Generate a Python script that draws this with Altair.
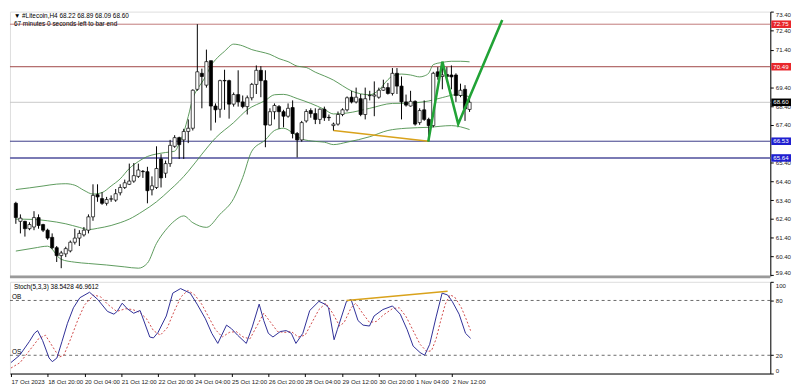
import altair as alt
import pandas as pd

# ---------------- data ----------------
bar_idx = list(range(101))
opens = [63.23, 62.27, 62.27, 61.88, 61.97, 62.47, 62.10, 61.80, 61.42, 60.87,
         60.45, 60.54, 60.70, 61.16, 61.38, 61.55, 61.80, 62.51, 63.69, 63.48,
         63.23, 63.45, 63.40, 63.79, 64.07, 64.24, 64.41, 64.66, 64.93, 64.91,
         63.95, 64.07, 65.59, 64.83, 65.34, 66.26, 66.72, 66.60, 67.05, 67.22,
         69.29, 70.14, 69.51, 70.81, 68.40, 68.23, 69.76, 69.75, 68.50, 69.01,
         68.62, 68.37, 68.84, 69.55, 70.30, 69.75, 67.39, 68.10, 68.37, 68.10,
         67.86, 68.32, 66.94, 66.60, 67.61, 68.16, 68.00, 67.69, 68.23, 67.80,
         67.36, 67.44, 67.95, 68.20, 68.87, 68.62, 68.79, 67.95, 68.95, 68.93,
         68.87, 69.24, 69.38, 69.07, 70.14, 69.46, 68.62, 68.40, 68.65, 67.52,
         68.20, 67.69, 67.36, 70.22, 69.97, 70.08, 70.05, 70.05, 68.96, 69.29,
         68.22]
highs = [63.31, 62.64, 62.30, 62.22, 62.81, 62.64, 62.14, 61.88, 61.63, 60.96,
         60.70, 60.92, 61.25, 61.88, 61.80, 61.97, 62.64, 64.24, 64.24, 63.82,
         63.57, 63.65, 63.99, 64.24, 64.49, 65.34, 65.37, 65.34, 65.00, 65.17,
         64.66, 66.26, 65.84, 65.50, 66.60, 66.85, 66.77, 67.19, 67.69, 69.29,
         72.75, 70.39, 71.40, 70.81, 68.54, 69.80, 70.33, 69.80, 69.12, 70.30,
         68.96, 68.96, 69.63, 70.56, 70.52, 70.30, 68.28, 68.54, 68.45, 68.20,
         68.54, 68.70, 67.02, 67.61, 68.23, 68.28, 68.28, 68.28, 68.37, 67.95,
         67.52, 68.11, 68.28, 68.91, 69.21, 69.38, 69.04, 69.38, 69.21, 69.71,
         69.38, 69.80, 69.63, 70.42, 70.42, 69.97, 69.01, 69.21, 68.70, 68.28,
         68.70, 67.78, 70.22, 70.47, 70.47, 70.47, 70.56, 70.14, 69.59, 69.51,
         68.89]
lows = [62.14, 61.63, 61.46, 61.80, 61.80, 61.88, 61.70, 61.29, 60.79, 60.11,
        59.78, 60.37, 60.62, 61.04, 60.96, 61.46, 61.63, 62.30, 63.31, 63.15,
        63.11, 63.31, 63.31, 63.65, 63.99, 64.20, 64.32, 64.58, 64.58, 63.23,
        63.65, 63.99, 64.07, 64.58, 65.17, 66.18, 65.59, 65.59, 66.43, 67.10,
        69.21, 68.28, 69.38, 67.10, 67.52, 67.78, 68.20, 67.73, 68.37, 68.37,
        68.28, 67.95, 68.70, 69.04, 68.87, 66.21, 67.36, 67.69, 67.19, 67.27,
        67.78, 66.68, 65.67, 66.51, 67.52, 67.78, 67.44, 67.44, 67.61, 67.61,
        67.10, 67.36, 67.86, 68.11, 68.54, 68.54, 67.86, 67.69, 68.70, 67.86,
        68.79, 69.21, 69.01, 68.96, 69.04, 67.69, 68.37, 68.37, 67.36, 67.40,
        67.61, 66.53, 67.27, 69.80, 69.29, 69.71, 69.29, 68.62, 68.87, 67.61,
        68.09]
closes = [62.47, 62.44, 61.88, 62.10, 62.47, 62.05, 61.80, 61.38, 60.87, 60.45,
          60.59, 60.82, 61.16, 61.38, 61.63, 61.80, 62.51, 63.65, 63.57, 63.23,
          63.43, 63.47, 63.74, 64.07, 64.32, 64.41, 64.70, 65.00, 64.91, 63.90,
          64.16, 65.08, 64.58, 65.34, 66.31, 66.72, 66.35, 67.05, 67.22, 69.24,
          70.22, 69.97, 70.76, 68.40, 68.20, 69.75, 69.74, 68.50, 69.01, 68.62,
          68.37, 68.84, 69.55, 70.30, 69.75, 67.39, 68.10, 68.43, 68.10, 67.86,
          68.28, 66.94, 66.60, 67.52, 68.11, 68.00, 67.69, 68.23, 67.78, 67.78,
          67.44, 67.95, 68.20, 68.84, 68.62, 68.87, 67.95, 68.79, 68.97, 68.99,
          69.24, 69.38, 69.07, 70.14, 69.46, 68.62, 68.45, 68.65, 67.44, 68.16,
          67.69, 67.36, 70.14, 69.97, 70.05, 69.97, 69.95, 68.96, 69.24, 68.25,
          68.60]

# Bollinger bands (sampled along the curve)
bb_up_i = [0, 3, 6, 9, 11, 13, 15, 17, 19, 21, 23, 25, 27, 29, 31, 33, 35, 36, 37, 38,
           39, 40, 41, 42, 43, 44, 46, 48, 50, 52, 54, 56, 58, 60, 62, 64, 66, 68, 70,
           72, 74, 76, 78, 80, 82, 83, 85, 87, 89, 90, 91, 92, 94, 96, 98, 100]
bb_up = [63.96, 64.05, 64.15, 64.25, 64.27, 64.19, 63.92, 63.72, 63.80, 64.15, 64.53,
         65.08, 65.45, 65.72, 65.85, 65.93, 66.00, 66.40, 67.00, 67.85, 68.80, 69.30,
         69.65, 70.05, 70.55, 70.86, 71.31, 71.69, 71.60, 71.40, 71.28, 71.15, 70.92,
         70.76, 70.52, 70.45, 70.20, 70.00, 69.78, 69.48, 69.20, 69.05, 69.00, 69.25,
         69.80, 70.00, 70.10, 70.05, 69.95, 70.00, 70.15, 70.60, 70.72, 70.78, 70.78,
         70.75]
bb_mid_i = [0, 4, 7, 11, 14, 16, 18, 21, 23, 25, 28, 31, 34, 36, 38, 41, 44, 48, 51,
            55, 57, 59, 62, 65, 68, 70, 73, 78, 83, 86, 91, 94, 97, 100]
bb_mid = [62.39, 62.37, 62.30, 62.14, 61.95, 61.83, 61.90, 62.05, 62.20, 62.39, 62.81,
          63.31, 63.95, 64.40, 64.93, 65.84, 66.70, 67.52, 68.20, 68.70, 69.00, 69.02,
          68.80, 68.54, 68.22, 67.98, 68.03, 68.28, 68.54, 68.55, 68.67, 68.85, 69.00,
          68.90]
bb_low_i = [0, 4, 7, 10, 13, 16, 20, 24, 27, 29, 31, 33, 35, 37, 39, 42, 45, 48, 50,
            52, 55, 57, 59, 61, 63, 66, 68, 70, 73, 78, 82, 86, 91, 96, 100]
bb_low = [60.69, 60.85, 60.95, 60.25, 60.10, 60.03, 59.95, 59.85, 59.78, 60.05, 61.10,
          61.80, 62.30, 62.56, 62.20, 61.95, 62.65, 63.48, 64.60, 66.00, 66.60, 67.10,
          67.22, 66.98, 66.65, 66.52, 66.48, 66.35, 66.48, 66.77, 67.10, 67.22, 67.27,
          67.36, 67.15]

# horizontal levels
level_price = [72.75, 70.49, 68.60, 66.53, 65.64]
level_label = ["72.75", "70.49", "68.60", "66.53", "65.64"]
level_line_color = ["#c07a7a", "#a04545", "#c8c8c8", "#3a3a88", "#7a7ab4"]
level_box_color = ["#e8262b", "#e8262b", "#000000", "#1f1fd0", "#1f1fd0"]
level_width = [1, 1, 1, 1, 2]

# drawn lines
orange_i = [70, 91]
orange_p = [67.10, 66.53]
zig_i = [90.9, 94.0, 97.5, 107.2]
zig_p = [66.51, 70.76, 67.44, 72.97]

# stochastic
k_i = [0, 1.9, 4, 5.1, 5.8, 6.9, 8.3, 9, 10, 11.1, 12.3, 13.6, 15, 17.1, 18.9, 21, 22.4,
       23.1, 24.2, 25.3, 26.7, 28.1, 30.2, 31, 32, 33.8, 35.2, 36.9, 39, 40.5, 42.3,
       43.7, 45, 46.9, 48, 49.3, 51.2, 52.5, 54, 55, 56, 57, 58.6, 59.9, 61, 62, 63.5,
       65, 67, 68.3, 69.1, 70.3, 71, 73, 74, 75.5, 76.6, 78, 79, 80.9, 83, 84.7, 86.2,
       87.5, 89, 90, 91.1, 92.5, 93.8, 95, 96, 97.5, 98.9, 100]
k_v = [12, 20, 35, 44, 47, 36, 17, 13, 17, 35, 55, 72, 83, 89, 81, 68, 65, 68, 77, 71,
       66, 69, 40, 39, 45, 63, 88, 93, 88, 76, 60, 44, 33, 53, 49, 42, 33, 51, 76, 58,
       44, 40, 46, 47, 44, 33, 44, 69, 79, 76, 72, 37, 48, 79, 81, 58, 53, 52, 63, 70,
       74, 65, 48, 30, 23, 20, 32, 62, 88, 86, 79, 65, 44, 38.54]
d_i = [0, 2, 4, 6, 7.5, 9, 10.5, 11.5, 13, 14.5, 16, 18, 19.5, 21, 23, 25, 26.5, 28,
       29.5, 31, 32.5, 34, 35.5, 37, 38.5, 40, 41.5, 43, 44.5, 46, 47.5, 49, 50.5, 52,
       53.5, 55, 56.5, 58, 59.5, 61, 62.5, 64, 65.5, 67, 68.5, 70, 71.5, 72.5, 74, 75,
       76.5, 78, 79.5, 81, 83, 84.5, 86, 87.5, 89, 90.5, 91.5, 92.5, 93.5, 94.5, 95.5,
       96.5, 98, 99, 100]
d_v = [6, 12, 25, 38, 42, 30, 18, 20, 38, 58, 75, 86, 84, 76, 68, 71, 70, 67, 60, 47,
       42, 50, 68, 84, 91, 86, 76, 62, 48, 40, 45, 46, 40, 38, 52, 66, 56, 46, 45, 46,
       40, 42, 56, 70, 77, 66, 52, 56, 72, 77, 66, 56, 57, 64, 71, 72, 62, 47, 32, 24,
       25, 38, 58, 76, 86, 84, 72, 60, 46.96]
stoch_trend_i = [73, 95]
stoch_trend_v = [80, 90]

time_ticks = list(range(0, 97, 8))
time_labels = ["17 Oct 2023", "18 Oct 20:00", "20 Oct 04:00", "21 Oct 12:00",
               "22 Oct 20:00", "24 Oct 04:00", "25 Oct 12:00", "26 Oct 20:00",
               "28 Oct 04:00", "29 Oct 12:00", "30 Oct 20:00", "1 Nov 04:00",
               "2 Nov 12:00"]
price_ticks = [73.4, 72.4, 71.4, 69.4, 68.4, 67.4, 65.4, 64.4, 63.4, 62.4, 61.4,
               60.4, 59.4]

# ---------------- chart ----------------
W, H1, H2 = 771, 268, 93
FONT = "Liberation Sans Narrow, Liberation Sans, sans-serif"
xs = alt.Scale(domain=[-0.21, 165.2], nice=False, zero=False)
ys = alt.Scale(domain=[59.37, 73.42], nice=False, zero=False)
ss = alt.Scale(domain=[0, 100.4], nice=False, zero=False)

yaxis = alt.Axis(orient="right", values=price_ticks, format=".2f", title=None,
                 labelFontSize=6.2, labelFont=FONT, labelColor="#222", tickSize=3,
                 tickColor="#000", domainColor="#000", grid=False, labelPadding=2,
                 labelOverlap=False, labelFlush=True)

candles = pd.DataFrame({"i": bar_idx, "open": opens, "high": highs,
                        "low": lows, "close": closes})
levels = pd.DataFrame({"p": level_price, "lab": level_label, "lc": level_line_color,
                       "bc": level_box_color, "w": level_width})
levels["lo"] = levels["p"] - 0.2
levels["hi"] = levels["p"] + 0.2

bb = pd.concat([
    pd.DataFrame({"i": bb_up_i, "p": bb_up, "band": "upper"}),
    pd.DataFrame({"i": bb_mid_i, "p": bb_mid, "band": "mid"}),
    pd.DataFrame({"i": bb_low_i, "p": bb_low, "band": "lower"}),
])

X = alt.X("i:Q", scale=xs, axis=None)

lvl_rules = alt.Chart(levels).mark_rule().encode(
    y=alt.Y("p:Q", scale=ys, axis=yaxis),
    color=alt.Color("lc:N", scale=None),
    strokeWidth=alt.StrokeWidth("w:Q", scale=None),
)
bands = alt.Chart(bb).mark_line(color="#4a8f4a", strokeWidth=0.9, interpolate="monotone").encode(
    x=X, y=alt.Y("p:Q", scale=ys, axis=yaxis), detail="band:N")
wicks = alt.Chart(candles).mark_rule(color="#000", strokeWidth=1).encode(
    x=X, y=alt.Y("low:Q", scale=ys, axis=yaxis), y2="high:Q")
bodies = alt.Chart(candles).mark_bar(size=3.2, stroke="#000", strokeWidth=0.7).encode(
    x=X, y=alt.Y("open:Q", scale=ys, axis=yaxis), y2="close:Q",
    fill=alt.condition(alt.datum.close >= alt.datum.open, alt.value("#ffffff"), alt.value("#000000")),
)
orange = alt.Chart(pd.DataFrame({"i": orange_i, "p": orange_p})).mark_line(
    color="#d9a21b", strokeWidth=1.6).encode(x=X, y=alt.Y("p:Q", scale=ys, axis=yaxis))
zig = alt.Chart(pd.DataFrame({"i": zig_i, "p": zig_p})).mark_line(
    color="#21a336", strokeWidth=2.6).encode(x=X, y=alt.Y("p:Q", scale=ys, axis=yaxis))

boxes = alt.Chart(levels).mark_rect().encode(
    x=alt.value(W + 1), x2=alt.value(W + 21),
    y=alt.Y("lo:Q", scale=ys, axis=yaxis), y2="hi:Q",
    fill=alt.Fill("bc:N", scale=None))
box_text = alt.Chart(levels).mark_text(align="left", baseline="middle", fontSize=6.2,
                                       font=FONT, color="white").encode(
    x=alt.value(W + 3), y=alt.Y("p:Q", scale=ys, axis=yaxis), text="lab:N")

header = alt.Chart(pd.DataFrame({"t": ["▼  #Litecoin,H4  68.22 68.89 68.09 68.60",
                                       "67 minutes 0 seconds left to bar end"],
                                 "yy": [4, 12.5]})).mark_text(
    align="left", baseline="middle", fontSize=6.5, font=FONT, color="#000").encode(
    x=alt.value(4), y=alt.Y("yy:Q", scale=None), text="t:N")

sep = alt.Chart(pd.DataFrame({"a": [0]})).mark_rule(color="#9a9a9a", strokeWidth=3).encode(
    x=alt.value(0), x2=alt.value(W), y=alt.value(H1 + 1))

main = alt.layer(lvl_rules, bands, orange, wicks, bodies, zig, boxes, box_text, header, sep
                 ).properties(width=W, height=H1)

# stochastic panel
xaxis = alt.Axis(values=time_ticks, title=None, labelFontSize=6.2, labelFont=FONT,
                 labelColor="#222", labelAlign="left", labelPadding=2, labelOffset=0,
                 labelOverlap=False, labelFlush=False, tickSize=3, tickColor="#000",
                 domainColor="#000", grid=False,
                 labelExpr="[" + ",".join("'%s'" % s for s in time_labels) + "][round(datum.value/8)]")
saxis = alt.Axis(orient="right", values=[0, 20, 80, 100], format="d", title=None,
                 labelFontSize=6.2, labelFont=FONT, labelColor="#222", tickSize=3,
                 tickColor="#000", domainColor="#000", grid=False, labelPadding=2,
                 labelFlush=True)
XS = alt.X("i:Q", scale=xs, axis=xaxis)

k_line = alt.Chart(pd.DataFrame({"i": k_i, "v": k_v})).mark_line(
    color="#2e2e96", strokeWidth=1).encode(x=XS, y=alt.Y("v:Q", scale=ss, axis=saxis))
d_line = alt.Chart(pd.DataFrame({"i": d_i, "v": d_v})).mark_line(
    color="#d04a4a", strokeWidth=1, strokeDash=[2, 2]).encode(
    x=XS, y=alt.Y("v:Q", scale=ss, axis=saxis))
lev = alt.Chart(pd.DataFrame({"v": [80, 20]})).mark_rule(
    color="#444", strokeWidth=0.8, strokeDash=[3, 3]).encode(
    y=alt.Y("v:Q", scale=ss, axis=saxis))
s_trend = alt.Chart(pd.DataFrame({"i": stoch_trend_i, "v": stoch_trend_v})).mark_line(
    color="#d9a21b", strokeWidth=1.6).encode(x=XS, y=alt.Y("v:Q", scale=ss, axis=saxis))
s_text = alt.Chart(pd.DataFrame({"t": ["Stoch(5,3,3) 38.5428 46.9612", "OB", "OS"],
                                 "xx": [4, 2, 2], "yy": [5, 15, 71]})).mark_text(
    align="left", baseline="middle", fontSize=6.5, font=FONT, color="#000").encode(
    x=alt.X("xx:Q", scale=None), y=alt.Y("yy:Q", scale=None), text="t:N")

stoch = alt.layer(lev, d_line, k_line, s_trend, s_text).properties(width=W, height=H2)

chart = alt.vconcat(main, stoch, spacing=2).configure_view(
    stroke="#000", strokeWidth=1).configure(background="white").properties(
    padding={"left": 0, "top": 0, "right": 0, "bottom": 0})

chart.save("out.html", embed_options={"renderer": "svg", "actions": False})
